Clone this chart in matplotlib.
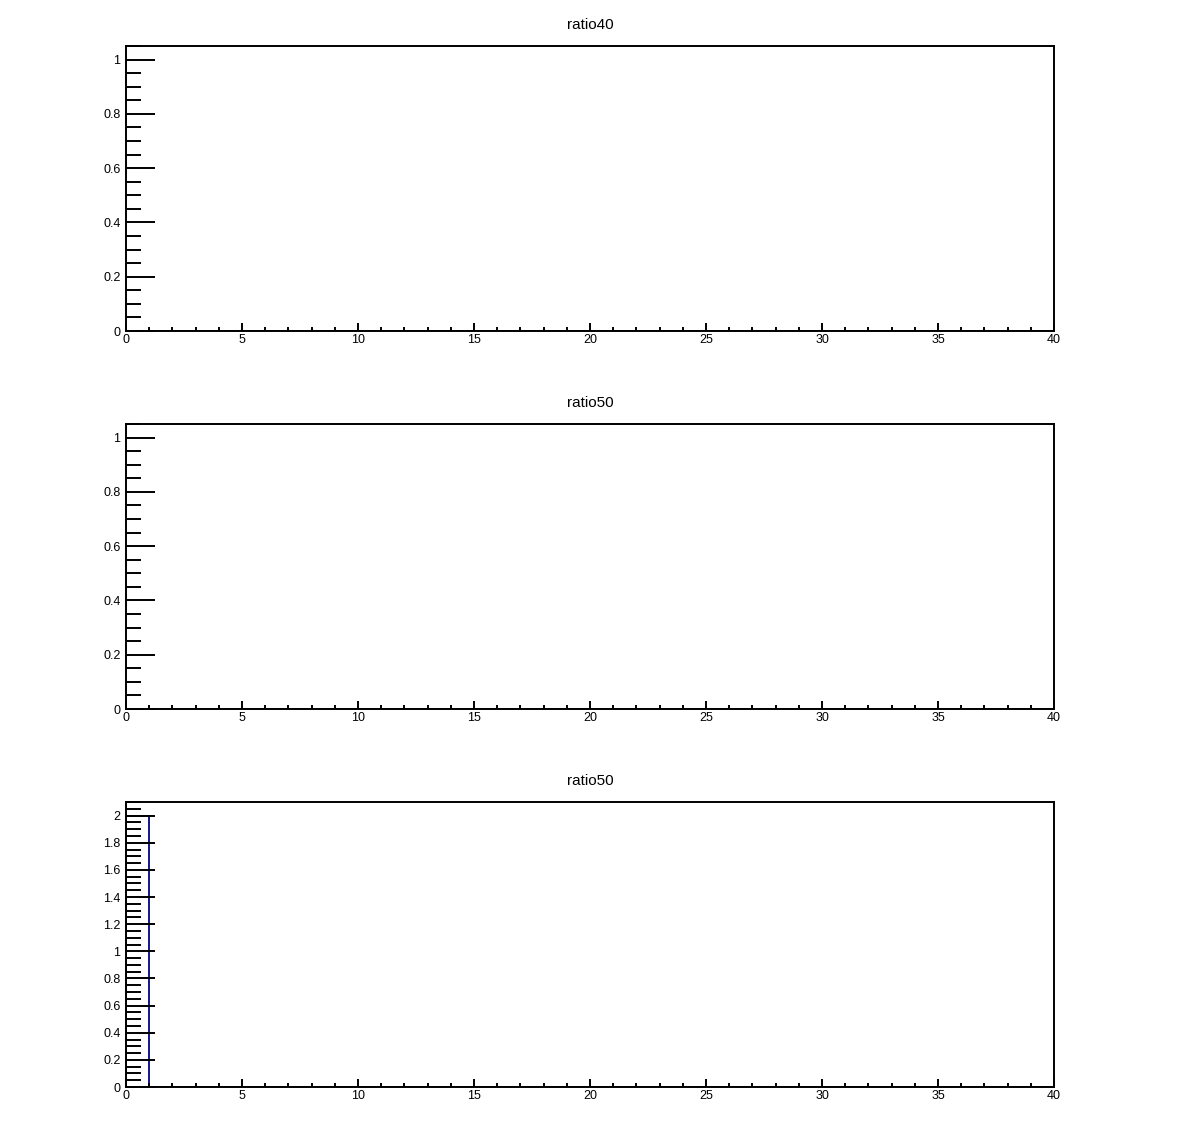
import numpy as np
import matplotlib.pyplot as plt
from matplotlib.ticker import MultipleLocator

plt.rcParams['font.family'] = ['Liberation Sans', 'DejaVu Sans']

# ===============================
# Data (40 bins from 0 to 40)
# ===============================
bin_edges = np.arange(0, 41)
ratio40 = np.zeros(40)
ratio50 = np.zeros(40)
ratio50_b = np.zeros(40)
ratio50_b[0] = 2.0

titles = ["ratio40", "ratio50", "ratio50"]
series = [ratio40, ratio50, ratio50_b]
y_max = [1.05, 1.05, 2.1]

hist_color = "#14148c"

# ===============================
# Figure layout (ROOT-like canvas)
# ===============================
fig = plt.figure(figsize=(11.82, 11.34), dpi=100)
left, width, height = 126 / 1182, 928 / 1182, 285 / 1134
tops = [46, 424, 802]
lw = 1.4

for top, title, vals, ymax in zip(tops, titles, series, y_max):
    bottom = 1 - (top + 285) / 1134
    ax = fig.add_axes([left, bottom, width, height])
    ax.stairs(vals, bin_edges, color=hist_color, linewidth=1.4, baseline=0, zorder=1)

    ax.set_xlim(0, 40)
    ax.set_ylim(0, ymax)

    for side in ["top", "bottom", "left", "right"]:
        ax.spines[side].set_linewidth(lw)
        ax.spines[side].set_zorder(3)

    # x axis ticks
    ax.xaxis.set_major_locator(MultipleLocator(5))
    ax.xaxis.set_minor_locator(MultipleLocator(1))
    ax.tick_params(axis="x", which="major", direction="in", length=5.8, width=lw,
                   labelsize=9, pad=2, top=False)
    ax.tick_params(axis="x", which="minor", direction="in", length=3, width=lw, top=False)

    # y axis ticks
    ax.yaxis.set_major_locator(MultipleLocator(0.2))
    ax.yaxis.set_minor_locator(MultipleLocator(0.05))
    ax.tick_params(axis="y", which="major", direction="in", length=21, width=lw,
                   labelsize=9, pad=4, right=False)
    ax.tick_params(axis="y", which="minor", direction="in", length=10.8, width=lw, right=False)

    ax.xaxis.set_major_formatter(plt.FuncFormatter(lambda v, p: f"{v:g}"))
    ax.yaxis.set_major_formatter(plt.FuncFormatter(lambda v, p: f"{v:g}"))

    ax.set_title(title, fontsize=11, pad=12)

fig.savefig("out.png", dpi=100)
